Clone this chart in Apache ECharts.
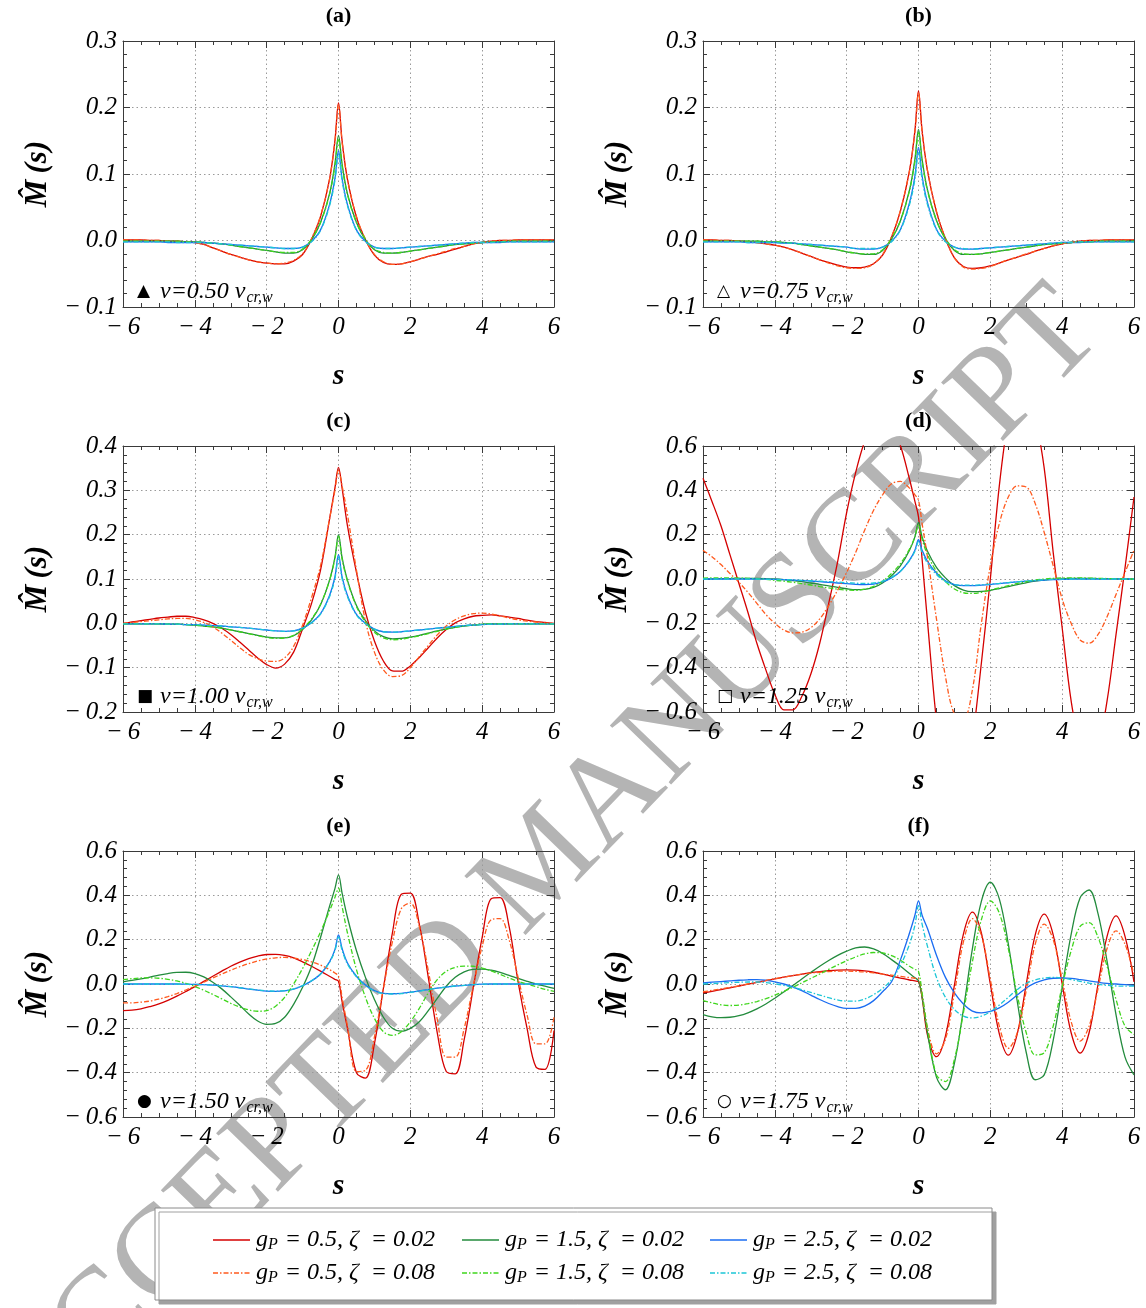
<!DOCTYPE html>
<html>
<head>
<meta charset="utf-8">
<script src="https://cdn.jsdelivr.net/npm/echarts@6/dist/echarts.min.js"></script>
<style>
  html, body { margin: 0; padding: 0; background: #ffffff; }
  #chart { width: 1146px; height: 1308px; }
</style>
</head>
<body>
<div id="chart"></div>
<script>
// Sample positions s shared by every curve
const S = [-6,-5.75,-5.5,-5.25,-5,-4.75,-4.5,-4.25,-4,-3.75,-3.5,-3.25,-3,-2.75,-2.5,-2.25,-2,-1.75,-1.5,-1.25,-1,-0.75,-0.5,-0.25,
  -0.1,0,0.1,
  0.25,0.5,0.75,1,1.25,1.5,1.75,2,2.25,2.5,2.75,3,3.25,3.5,3.75,4,4.25,4.5,4.75,5,5.25,5.5,5.75,6];

// ---- (a) v = 0.50 v_cr,w ----
const aR02 = [0.001,0.001,0.001,0.0,0.0,-0.001,-0.001,-0.002,-0.003,-0.006,-0.011,-0.016,-0.021,-0.025,-0.029,-0.032,-0.034,-0.035,-0.035,-0.031,-0.021,0.002,0.036,0.092,
  0.15,0.207,0.15,
  0.092,0.035,0.001,-0.022,-0.033,-0.036,-0.035,-0.032,-0.028,-0.024,-0.021,-0.017,-0.013,-0.009,-0.005,-0.003,-0.001,0.0,0.0,0.001,0.001,0.001,0.001,0.001];
const aR08 = [0.001,0.001,0.001,0.0,0.0,-0.001,-0.001,-0.002,-0.003,-0.006,-0.011,-0.016,-0.021,-0.025,-0.029,-0.032,-0.034,-0.035,-0.034,-0.03,-0.02,0.003,0.037,0.092,
  0.148,0.204,0.148,
  0.092,0.036,0.002,-0.021,-0.032,-0.036,-0.035,-0.032,-0.028,-0.024,-0.02,-0.016,-0.012,-0.009,-0.005,-0.003,-0.001,0.0,0.0,0.001,0.001,0.001,0.001,0.001];
const aG02 = [-0.001,-0.001,-0.001,-0.001,-0.001,-0.001,-0.001,-0.002,-0.002,-0.003,-0.004,-0.005,-0.007,-0.009,-0.011,-0.013,-0.015,-0.017,-0.019,-0.019,-0.014,0.001,0.027,0.07,
  0.115,0.158,0.115,
  0.07,0.027,0.001,-0.014,-0.019,-0.019,-0.018,-0.016,-0.014,-0.012,-0.01,-0.008,-0.006,-0.005,-0.004,-0.003,-0.002,-0.002,-0.001,-0.001,-0.001,-0.001,-0.001,-0.001];
const aG08 = [-0.001,-0.001,-0.001,-0.001,-0.001,-0.001,-0.001,-0.002,-0.002,-0.003,-0.004,-0.005,-0.007,-0.009,-0.011,-0.013,-0.015,-0.017,-0.018,-0.018,-0.013,0.002,0.027,0.069,
  0.112,0.153,0.112,
  0.069,0.027,0.002,-0.013,-0.018,-0.019,-0.018,-0.016,-0.014,-0.012,-0.01,-0.008,-0.006,-0.005,-0.004,-0.003,-0.002,-0.002,-0.001,-0.001,-0.001,-0.001,-0.001,-0.001];
const aB02 = [-0.002,-0.002,-0.002,-0.002,-0.002,-0.003,-0.003,-0.003,-0.003,-0.003,-0.004,-0.005,-0.006,-0.007,-0.008,-0.009,-0.01,-0.011,-0.012,-0.012,-0.01,-0.001,0.016,0.054,
  0.093,0.135,0.093,
  0.054,0.016,-0.001,-0.01,-0.012,-0.012,-0.011,-0.01,-0.009,-0.008,-0.007,-0.006,-0.005,-0.004,-0.003,-0.003,-0.003,-0.003,-0.002,-0.002,-0.002,-0.002,-0.002,-0.002];
const aB08 = [-0.002,-0.002,-0.002,-0.002,-0.002,-0.002,-0.003,-0.003,-0.003,-0.003,-0.004,-0.005,-0.006,-0.007,-0.008,-0.009,-0.01,-0.011,-0.012,-0.012,-0.01,-0.002,0.015,0.052,
  0.09,0.13,0.09,
  0.052,0.015,-0.002,-0.01,-0.012,-0.012,-0.011,-0.01,-0.009,-0.008,-0.007,-0.006,-0.005,-0.004,-0.003,-0.003,-0.003,-0.002,-0.002,-0.002,-0.002,-0.002,-0.002,-0.002];

// ---- (b) v = 0.75 v_cr,w ----
const bR02 = [0.001,0.001,0.0,0.0,-0.001,-0.002,-0.003,-0.005,-0.007,-0.01,-0.014,-0.019,-0.024,-0.029,-0.033,-0.037,-0.04,-0.041,-0.04,-0.035,-0.022,0.005,0.045,0.105,
  0.165,0.225,0.165,
  0.105,0.043,0.003,-0.026,-0.039,-0.042,-0.041,-0.038,-0.034,-0.029,-0.025,-0.021,-0.016,-0.012,-0.008,-0.005,-0.003,-0.001,0.0,0.0,0.001,0.001,0.001,0.001];
const bR08 = [0.001,0.001,0.0,0.0,-0.001,-0.002,-0.003,-0.005,-0.007,-0.01,-0.014,-0.019,-0.024,-0.029,-0.034,-0.038,-0.041,-0.042,-0.041,-0.035,-0.021,0.006,0.046,0.105,
  0.163,0.222,0.163,
  0.105,0.044,0.003,-0.026,-0.04,-0.043,-0.042,-0.039,-0.034,-0.029,-0.025,-0.02,-0.016,-0.012,-0.008,-0.005,-0.003,-0.001,0.0,0.0,0.001,0.001,0.001,0.001];
const bG02 = [-0.001,-0.001,-0.001,-0.001,-0.001,-0.001,-0.001,-0.002,-0.002,-0.003,-0.004,-0.006,-0.008,-0.01,-0.012,-0.014,-0.017,-0.019,-0.021,-0.021,-0.015,0.002,0.03,0.076,
  0.122,0.167,0.122,
  0.076,0.03,0.002,-0.015,-0.021,-0.021,-0.02,-0.018,-0.016,-0.014,-0.012,-0.01,-0.008,-0.006,-0.005,-0.004,-0.003,-0.002,-0.002,-0.001,-0.001,-0.001,-0.001,-0.001];
const bG08 = [-0.001,-0.001,-0.001,-0.001,-0.001,-0.001,-0.001,-0.002,-0.002,-0.003,-0.004,-0.006,-0.008,-0.01,-0.012,-0.014,-0.017,-0.019,-0.02,-0.02,-0.014,0.003,0.03,0.075,
  0.119,0.162,0.119,
  0.075,0.03,0.003,-0.014,-0.02,-0.021,-0.02,-0.018,-0.016,-0.014,-0.012,-0.01,-0.008,-0.006,-0.005,-0.004,-0.003,-0.002,-0.002,-0.001,-0.001,-0.001,-0.001,-0.001];
const bB02 = [-0.002,-0.002,-0.002,-0.002,-0.002,-0.003,-0.003,-0.003,-0.003,-0.004,-0.004,-0.005,-0.006,-0.007,-0.008,-0.009,-0.01,-0.012,-0.013,-0.013,-0.01,-0.001,0.017,0.057,
  0.097,0.14,0.097,
  0.057,0.017,-0.001,-0.01,-0.013,-0.013,-0.012,-0.011,-0.01,-0.009,-0.008,-0.007,-0.006,-0.005,-0.004,-0.003,-0.003,-0.003,-0.002,-0.002,-0.002,-0.002,-0.002,-0.002];
const bB08 = [-0.002,-0.002,-0.002,-0.002,-0.002,-0.003,-0.003,-0.003,-0.003,-0.004,-0.004,-0.005,-0.006,-0.007,-0.008,-0.009,-0.01,-0.012,-0.012,-0.012,-0.01,-0.002,0.016,0.054,
  0.092,0.132,0.092,
  0.054,0.016,-0.002,-0.01,-0.012,-0.013,-0.012,-0.011,-0.01,-0.009,-0.008,-0.007,-0.006,-0.005,-0.004,-0.003,-0.003,-0.002,-0.002,-0.002,-0.002,-0.002,-0.002,-0.002];

// ---- (c) v = 1.00 v_cr,w ----
const cR02 = [0.0,0.003,0.006,0.009,0.012,0.014,0.016,0.016,0.013,0.008,0.0,-0.011,-0.025,-0.042,-0.06,-0.078,-0.093,-0.101,-0.092,-0.065,-0.012,0.045,0.12,0.235,
  0.305,0.352,0.305,
  0.22,0.115,0.025,-0.04,-0.085,-0.107,-0.108,-0.096,-0.077,-0.055,-0.033,-0.014,0.001,0.01,0.016,0.018,0.019,0.017,0.014,0.011,0.007,0.004,0.002,0.0];
const cR08 = [0.0,0.002,0.004,0.006,0.008,0.01,0.011,0.011,0.008,0.002,-0.008,-0.022,-0.038,-0.055,-0.07,-0.08,-0.085,-0.086,-0.078,-0.052,-0.004,0.058,0.13,0.235,
  0.3,0.345,0.31,
  0.245,0.12,0.005,-0.065,-0.105,-0.12,-0.118,-0.1,-0.075,-0.05,-0.026,-0.006,0.008,0.017,0.022,0.023,0.021,0.017,0.012,0.008,0.005,0.003,0.001,0.0];
const cG02 = [-0.001,-0.001,-0.001,-0.001,-0.001,-0.002,-0.002,-0.003,-0.004,-0.006,-0.008,-0.011,-0.015,-0.019,-0.023,-0.027,-0.031,-0.033,-0.033,-0.028,-0.014,0.008,0.042,0.097,
  0.148,0.2,0.148,
  0.097,0.04,0.006,-0.017,-0.03,-0.035,-0.034,-0.031,-0.027,-0.022,-0.017,-0.013,-0.009,-0.006,-0.004,-0.002,-0.001,-0.001,-0.001,-0.001,-0.001,-0.001,-0.001,-0.001];
const cG08 = [-0.001,-0.001,-0.001,-0.001,-0.001,-0.002,-0.002,-0.003,-0.004,-0.006,-0.008,-0.011,-0.015,-0.019,-0.023,-0.028,-0.032,-0.034,-0.033,-0.027,-0.012,0.01,0.043,0.097,
  0.146,0.196,0.145,
  0.095,0.038,0.003,-0.02,-0.033,-0.037,-0.036,-0.032,-0.028,-0.023,-0.018,-0.013,-0.009,-0.006,-0.004,-0.002,-0.001,-0.001,-0.001,-0.001,-0.001,-0.001,-0.001,-0.001];
const cB02 = [-0.001,-0.001,-0.001,-0.001,-0.001,-0.002,-0.002,-0.003,-0.003,-0.004,-0.005,-0.006,-0.008,-0.009,-0.011,-0.013,-0.015,-0.017,-0.018,-0.017,-0.011,0.002,0.022,0.063,
  0.105,0.155,0.105,
  0.063,0.02,0.0,-0.013,-0.019,-0.02,-0.019,-0.017,-0.015,-0.013,-0.011,-0.009,-0.007,-0.005,-0.004,-0.003,-0.002,-0.002,-0.001,-0.001,-0.001,-0.001,-0.001,-0.001];
const cB08 = [-0.001,-0.001,-0.001,-0.001,-0.001,-0.002,-0.002,-0.003,-0.003,-0.004,-0.005,-0.006,-0.008,-0.009,-0.011,-0.013,-0.015,-0.017,-0.018,-0.017,-0.011,0.001,0.021,0.06,
  0.101,0.15,0.101,
  0.06,0.019,-0.001,-0.013,-0.019,-0.02,-0.019,-0.017,-0.015,-0.013,-0.011,-0.009,-0.007,-0.005,-0.004,-0.003,-0.002,-0.002,-0.001,-0.001,-0.001,-0.001,-0.001,-0.001];

// ---- (d) v = 1.25 v_cr,w ----
const dR02 = [0.455,0.35,0.24,0.11,-0.02,-0.15,-0.29,-0.41,-0.52,-0.59,-0.59,-0.53,-0.43,-0.29,-0.11,0.08,0.3,0.48,0.62,0.7,0.73,0.69,0.6,0.45,
  0.35,0.28,0.09,
  -0.19,-0.64,-0.94,-1.05,-0.98,-0.73,-0.38,0.0,0.42,0.72,0.87,0.87,0.73,0.5,0.12,-0.22,-0.55,-0.75,-0.82,-0.75,-0.55,-0.25,0.05,0.37];
const dR08 = [0.13,0.1,0.065,0.025,-0.015,-0.06,-0.11,-0.16,-0.2,-0.23,-0.243,-0.24,-0.22,-0.18,-0.12,-0.05,0.03,0.12,0.22,0.31,0.38,0.43,0.44,0.41,
  0.38,0.355,0.25,
  0.1,-0.18,-0.44,-0.61,-0.63,-0.5,-0.2,0.06,0.25,0.37,0.42,0.415,0.34,0.21,0.06,-0.09,-0.2,-0.275,-0.29,-0.25,-0.17,-0.07,0.03,0.13];
const dG02 = [0.0,0.001,0.002,0.002,0.003,0.003,0.003,0.002,0.0,-0.003,-0.007,-0.012,-0.018,-0.024,-0.031,-0.038,-0.044,-0.048,-0.047,-0.038,-0.018,0.015,0.06,0.13,
  0.19,0.255,0.19,
  0.125,0.052,0.005,-0.03,-0.05,-0.057,-0.056,-0.051,-0.043,-0.034,-0.025,-0.017,-0.01,-0.005,-0.001,0.001,0.003,0.003,0.003,0.002,0.002,0.001,0.001,0.0];
const dG08 = [0.004,0.005,0.005,0.005,0.004,0.003,0.001,-0.002,-0.006,-0.01,-0.015,-0.021,-0.027,-0.034,-0.04,-0.046,-0.05,-0.051,-0.046,-0.033,-0.01,0.025,0.07,0.135,
  0.19,0.245,0.18,
  0.11,0.035,-0.012,-0.045,-0.062,-0.065,-0.06,-0.05,-0.04,-0.03,-0.02,-0.012,-0.005,0.0,0.003,0.005,0.005,0.005,0.004,0.003,0.002,0.001,0.0,0.0];
const dB02 = [0.0,0.0,0.0,0.0,0.0,0.0,0.0,-0.001,-0.002,-0.003,-0.005,-0.007,-0.009,-0.012,-0.015,-0.018,-0.021,-0.024,-0.025,-0.023,-0.013,0.005,0.035,0.085,
  0.13,0.177,0.13,
  0.08,0.027,-0.008,-0.025,-0.03,-0.03,-0.028,-0.025,-0.021,-0.017,-0.013,-0.01,-0.007,-0.005,-0.003,-0.002,-0.001,0.0,0.0,0.0,0.0,0.0,0.0,0.0];
const dB08 = [0.0,0.0,0.0,0.0,0.0,0.0,0.0,-0.001,-0.002,-0.003,-0.004,-0.006,-0.008,-0.01,-0.012,-0.014,-0.017,-0.019,-0.02,-0.018,-0.01,0.007,0.036,0.083,
  0.125,0.168,0.12,
  0.072,0.02,-0.012,-0.025,-0.028,-0.028,-0.026,-0.023,-0.02,-0.016,-0.012,-0.009,-0.006,-0.004,-0.002,-0.001,0.0,0.0,0.0,0.0,0.0,0.0,0.0,0.0];

// ---- (e) v = 1.50 v_cr,w ----
const eR02 = [-0.12,-0.118,-0.112,-0.102,-0.09,-0.074,-0.055,-0.034,-0.012,0.012,0.035,0.058,0.08,0.099,0.115,0.126,0.133,0.134,0.129,0.118,0.1,0.08,0.058,0.035,
  0.021,0.012,-0.08,
  -0.2,-0.4,-0.425,-0.27,-0.02,0.23,0.405,0.41,0.27,0.03,-0.22,-0.395,-0.405,-0.25,-0.02,0.21,0.385,0.39,0.26,0.01,-0.2,-0.375,-0.385,-0.21];
const eR08 = [-0.085,-0.085,-0.082,-0.077,-0.068,-0.057,-0.043,-0.027,-0.01,0.008,0.027,0.045,0.062,0.078,0.092,0.104,0.113,0.118,0.12,0.117,0.11,0.1,0.085,0.065,
  0.05,0.035,-0.06,
  -0.19,-0.395,-0.39,-0.24,-0.02,0.19,0.34,0.365,0.26,0.06,-0.16,-0.33,-0.33,-0.2,-0.01,0.17,0.29,0.295,0.2,0.03,-0.14,-0.27,-0.27,-0.15];
const eG02 = [0.01,0.016,0.023,0.031,0.04,0.047,0.052,0.053,0.047,0.032,0.008,-0.022,-0.058,-0.096,-0.135,-0.167,-0.182,-0.178,-0.15,-0.092,-0.015,0.08,0.21,0.35,
  0.43,0.492,0.41,
  0.3,0.15,0.03,-0.07,-0.15,-0.2,-0.213,-0.2,-0.17,-0.12,-0.065,-0.01,0.03,0.055,0.066,0.067,0.062,0.052,0.039,0.025,0.012,0.0,-0.01,-0.02];
const eG08 = [0.02,0.024,0.027,0.028,0.026,0.021,0.014,0.003,-0.011,-0.028,-0.047,-0.067,-0.087,-0.104,-0.117,-0.123,-0.12,-0.1,-0.06,0.0,0.07,0.15,0.235,0.33,
  0.39,0.432,0.35,
  0.23,0.065,-0.06,-0.155,-0.215,-0.232,-0.215,-0.17,-0.11,-0.04,0.02,0.057,0.075,0.081,0.08,0.072,0.059,0.043,0.027,0.012,0.0,-0.012,-0.024,-0.033];
const eB02 = [0.0,0.0,0.0,0.0,0.0,0.0,0.0,-0.001,-0.002,-0.003,-0.005,-0.008,-0.012,-0.017,-0.023,-0.028,-0.032,-0.033,-0.031,-0.023,-0.008,0.014,0.045,0.1,
  0.155,0.222,0.16,
  0.095,0.035,-0.005,-0.03,-0.042,-0.044,-0.042,-0.037,-0.031,-0.025,-0.019,-0.014,-0.009,-0.006,-0.003,-0.001,0.0,0.0,0.0,0.0,0.0,0.0,0.0,0.0];
const eB08 = [0.0,0.0,0.0,0.0,0.0,0.0,0.0,-0.001,-0.002,-0.003,-0.005,-0.008,-0.012,-0.017,-0.022,-0.027,-0.031,-0.032,-0.03,-0.022,-0.007,0.015,0.045,0.098,
  0.15,0.212,0.152,
  0.09,0.032,-0.007,-0.031,-0.043,-0.045,-0.043,-0.038,-0.032,-0.025,-0.019,-0.014,-0.009,-0.006,-0.003,-0.001,0.0,0.0,0.0,0.0,0.0,0.0,0.0,0.0];

// ---- (f) v = 1.75 v_cr,w ----
const fR02 = [-0.04,-0.033,-0.025,-0.017,-0.009,-0.001,0.007,0.015,0.023,0.031,0.038,0.045,0.051,0.056,0.06,0.063,0.064,0.063,0.059,0.053,0.045,0.036,0.027,0.018,
  0.014,0.01,-0.06,
  -0.23,-0.328,-0.235,-0.005,0.225,0.324,0.23,0.0,-0.225,-0.321,-0.225,0.0,0.222,0.315,0.222,0.0,-0.22,-0.312,-0.22,0.0,0.215,0.307,0.215,0.01];
const fR08 = [-0.035,-0.029,-0.022,-0.015,-0.008,0.0,0.008,0.016,0.024,0.031,0.038,0.044,0.049,0.053,0.056,0.058,0.058,0.057,0.054,0.05,0.045,0.04,0.034,0.029,
  0.026,0.024,-0.05,
  -0.2,-0.315,-0.25,-0.04,0.19,0.295,0.22,0.02,-0.19,-0.29,-0.22,-0.03,0.18,0.27,0.2,0.02,-0.17,-0.258,-0.19,-0.02,0.16,0.24,0.18,0.042];
const fG02 = [-0.138,-0.148,-0.152,-0.15,-0.143,-0.13,-0.112,-0.09,-0.064,-0.036,-0.007,0.023,0.052,0.08,0.106,0.129,0.148,0.163,0.167,0.158,0.138,0.11,0.08,0.047,
  0.028,0.015,-0.06,
  -0.22,-0.42,-0.477,-0.357,-0.115,0.158,0.373,0.459,0.384,0.181,-0.079,-0.309,-0.432,-0.41,-0.254,-0.015,0.224,0.389,0.424,0.316,0.103,-0.139,-0.33,-0.41];
const fG08 = [-0.075,-0.085,-0.094,-0.097,-0.095,-0.089,-0.079,-0.066,-0.05,-0.033,-0.015,0.005,0.025,0.045,0.066,0.086,0.105,0.122,0.136,0.142,0.14,0.128,0.107,0.08,
  0.066,0.057,-0.04,
  -0.2,-0.41,-0.44,-0.34,-0.13,0.1,0.29,0.375,0.32,0.16,-0.05,-0.22,-0.32,-0.31,-0.19,-0.01,0.15,0.26,0.277,0.21,0.08,-0.07,-0.19,-0.228];
const fB02 = [0.005,0.008,0.011,0.014,0.017,0.019,0.02,0.017,0.01,0.0,-0.013,-0.03,-0.05,-0.07,-0.088,-0.102,-0.11,-0.11,-0.1,-0.075,-0.035,0.01,0.11,0.23,
  0.31,0.375,0.31,
  0.25,0.13,0.03,-0.04,-0.09,-0.122,-0.13,-0.124,-0.108,-0.082,-0.05,-0.018,0.005,0.019,0.026,0.027,0.025,0.02,0.014,0.008,0.003,0.0,-0.003,-0.006];
const fB08 = [0.0,0.002,0.004,0.006,0.008,0.009,0.009,0.006,0.001,-0.006,-0.015,-0.026,-0.038,-0.05,-0.062,-0.072,-0.077,-0.077,-0.068,-0.048,-0.02,0.02,0.085,0.18,
  0.265,0.352,0.27,
  0.17,0.03,-0.06,-0.115,-0.145,-0.153,-0.145,-0.125,-0.095,-0.06,-0.025,0.003,0.018,0.027,0.03,0.027,0.02,0.012,0.004,-0.002,-0.006,-0.009,-0.01,-0.01];

// Curve families: order matches each panel's data list
const CURVES = [
  { gp: '0.5', zeta: '0.02', color: '#d40000', dash: 'solid' },
  { gp: '1.5', zeta: '0.02', color: '#238b3d', dash: 'solid' },
  { gp: '2.5', zeta: '0.02', color: '#1a6cf2', dash: 'solid' },
  { gp: '0.5', zeta: '0.08', color: '#ff5a1e', dash: [5, 2, 1.5, 2] },
  { gp: '1.5', zeta: '0.08', color: '#3fd61c', dash: [5, 2, 1.5, 2] },
  { gp: '2.5', zeta: '0.08', color: '#1cc6d6', dash: [5, 2, 1.5, 2] }
];

const PANELS = [
  { tag: '(a)', mark: '\u25B2', speed: '0.50', yMin: -0.1, yMax: 0.3, yStep: 0.1, data: [aR02, aG02, aB02, aR08, aG08, aB08] },
  { tag: '(b)', mark: '\u25B3', speed: '0.75', yMin: -0.1, yMax: 0.3, yStep: 0.1, data: [bR02, bG02, bB02, bR08, bG08, bB08] },
  { tag: '(c)', mark: '\u25A0', speed: '1.00', yMin: -0.2, yMax: 0.4, yStep: 0.1, data: [cR02, cG02, cB02, cR08, cG08, cB08] },
  { tag: '(d)', mark: '\u25A1', speed: '1.25', yMin: -0.6, yMax: 0.6, yStep: 0.2, data: [dR02, dG02, dB02, dR08, dG08, dB08] },
  { tag: '(e)', mark: '\u25CF', speed: '1.50', yMin: -0.6, yMax: 0.6, yStep: 0.2, data: [eR02, eG02, eB02, eR08, eG08, eB08] },
  { tag: '(f)', mark: '\u25CB', speed: '1.75', yMin: -0.6, yMax: 0.6, yStep: 0.2, data: [fR02, fG02, fB02, fR08, fG08, fB08] }
];

PANELS.forEach(p => p.data.forEach((arr, k) => {
  if (arr.length !== S.length) throw new Error(p.tag + ' curve ' + k + ' has ' + arr.length + ' values');
}));

// ---- layout ----
const COL_X = [123, 703];
const ROW_Y = [41, 446, 851];
const PW = 431, PH = 266;
const SERIF = '"Liberation Serif", "DejaVu Serif", serif';
const FRAME = '#3a3a3a';

const minus = v => (v < -1e-9 ? '\u2212\u2009' : '');
const fmtX = v => minus(v) + Math.abs(Math.round(v));
const fmtY = v => minus(v) + Math.abs(v).toFixed(1);

const measureCtx = document.createElement('canvas').getContext('2d');
function textWidth(font, s) { measureCtx.font = font; return measureCtx.measureText(s).width; }
// A run of text pieces laid out left to right (used for subscripts)
function textRun(x, y, parts) {
  const out = [];
  let cx = x;
  parts.forEach(p => {
    out.push({
      type: 'text', x: cx, y: y + (p.dy || 0), silent: true, z: 5,
      style: { text: p.s, font: p.font, fill: '#000', align: 'left', verticalAlign: 'middle' }
    });
    cx += textWidth(p.font, p.s) + (p.gap || 0);
  });
  return out;
}

const grids = [], xAxes = [], yAxes = [], series = [], graphics = [];

const labelStyle = { fontFamily: SERIF, fontStyle: 'italic', fontSize: 25, color: '#000' };
const gridLine = { show: true, lineStyle: { color: '#9a9a9a', width: 1, type: [1.5, 3] } };

PANELS.forEach((p, i) => {
  const left = COL_X[i % 2], top = ROW_Y[Math.floor(i / 2)];
  grids.push({ left: left, top: top, width: PW, height: PH, containLabel: false });

  ['bottom', 'top'].forEach(pos => {
    const main = pos === 'bottom';
    xAxes.push({
      type: 'value', gridIndex: i, position: pos, min: -6, max: 6, interval: 2,
      axisLine: { show: true, onZero: false, lineStyle: { color: FRAME, width: 1 } },
      axisTick: { show: true, inside: true, length: 7, lineStyle: { color: FRAME } },
      minorTick: { show: true, splitNumber: 4, length: 4, lineStyle: { color: FRAME } },
      splitLine: main ? gridLine : { show: false },
      axisLabel: main ? Object.assign({ show: true, margin: 8, formatter: fmtX }, labelStyle) : { show: false },
      name: main ? 's' : '', nameLocation: 'middle', nameGap: 54,
      nameTextStyle: { fontFamily: SERIF, fontStyle: 'italic', fontWeight: 'bold', fontSize: 30, color: '#000' }
    });
  });
  ['left', 'right'].forEach(pos => {
    const main = pos === 'left';
    yAxes.push({
      type: 'value', gridIndex: i, position: pos, min: p.yMin, max: p.yMax, interval: p.yStep,
      axisLine: { show: true, onZero: false, lineStyle: { color: FRAME, width: 1 } },
      axisTick: { show: true, inside: true, length: 7, lineStyle: { color: FRAME } },
      minorTick: { show: true, splitNumber: 5, length: 4, lineStyle: { color: FRAME } },
      splitLine: main ? gridLine : { show: false },
      axisLabel: main ? Object.assign({ show: true, margin: 6, formatter: fmtY }, labelStyle) : { show: false },
      name: main ? 'M\u0302\u2009(s)' : '', nameLocation: 'middle', nameRotate: 90, nameGap: 70,
      nameTextStyle: { fontFamily: SERIF, fontStyle: 'italic', fontWeight: 'bold', fontSize: 31, color: '#000' }
    });
  });

  p.data.forEach((vals, k) => {
    const c = CURVES[k];
    series.push({
      type: 'line', name: 'gP=' + c.gp + ', zeta=' + c.zeta,
      xAxisIndex: 2 * i, yAxisIndex: 2 * i,
      data: S.map((s, j) => [s, vals[j]]),
      showSymbol: false, symbol: 'none', smooth: 0.35, clip: true,
      lineStyle: { color: c.color, width: 1.3, type: c.dash },
      z: k < 3 ? 3 : 4, silent: true
    });
  });

  // panel tag above the frame
  graphics.push({
    type: 'text', x: left + PW / 2, y: top - 25, silent: true, z: 5,
    style: { text: p.tag, font: 'bold 22px ' + SERIF, fill: '#000', align: 'center', verticalAlign: 'middle' }
  });
  // speed note in the lower-left corner
  const ny = top + PH - 15;
  graphics.push({
    type: 'text', x: left + 14, y: ny, silent: true, z: 5,
    style: { text: p.mark, font: '17px "DejaVu Sans"', fill: '#000', align: 'left', verticalAlign: 'middle' }
  });
  graphics.push(...textRun(left + 37, ny, [
    { s: 'v=' + p.speed + ' v', font: 'italic 24px ' + SERIF, gap: 1 },
    { s: 'cr,w', font: 'italic 16px ' + SERIF, dy: 6 }
  ]));
});

// legend box
const LX = 155, LY = 1208, LW = 837, LH = 92;
graphics.push({
  type: 'rect', silent: true, z: 4,
  shape: { x: LX, y: LY, width: LW, height: LH },
  style: { fill: '#fff', stroke: '#8a8a8a', lineWidth: 1, shadowColor: '#a0a0a0', shadowOffsetX: 4, shadowOffsetY: 4, shadowBlur: 0 }
});
const LEG_COLS = [213, 462, 710];
const LEG_ROWS = [1240, 1273];
CURVES.forEach((c, k) => {
  const x0 = LEG_COLS[k % 3], y0 = LEG_ROWS[Math.floor(k / 3)];
  graphics.push({
    type: 'line', silent: true, z: 5,
    shape: { x1: x0, y1: y0, x2: x0 + 37, y2: y0 },
    style: { stroke: c.color, lineWidth: 1.6, lineDash: c.dash === 'solid' ? null : c.dash }
  });
  graphics.push(...textRun(x0 + 43, y0, [
    { s: 'g', font: 'italic 24px ' + SERIF, gap: 0 },
    { s: 'P', font: 'italic 16px ' + SERIF, dy: 5, gap: 1 },
    { s: ' = ' + c.gp + ', \u03B6  = ' + c.zeta, font: 'italic 24px ' + SERIF }
  ]));
});

// diagonal watermark behind everything
graphics.push({
  type: 'text', x: 545, y: 866, rotation: 46 * Math.PI / 180, silent: true, z: -10,
  style: { text: 'ACCEPTED MANUSCRIPT', font: '130px ' + SERIF, fill: '#b4b4b4', align: 'center', verticalAlign: 'middle' }
});

const chart = echarts.init(document.getElementById('chart'), null, { renderer: 'canvas', width: 1146, height: 1308 });
chart.setOption({
  animation: false,
  backgroundColor: '#ffffff',
  grid: grids,
  xAxis: xAxes,
  yAxis: yAxes,
  series: series,
  graphic: { elements: graphics }
});
</script>
</body>
</html>
